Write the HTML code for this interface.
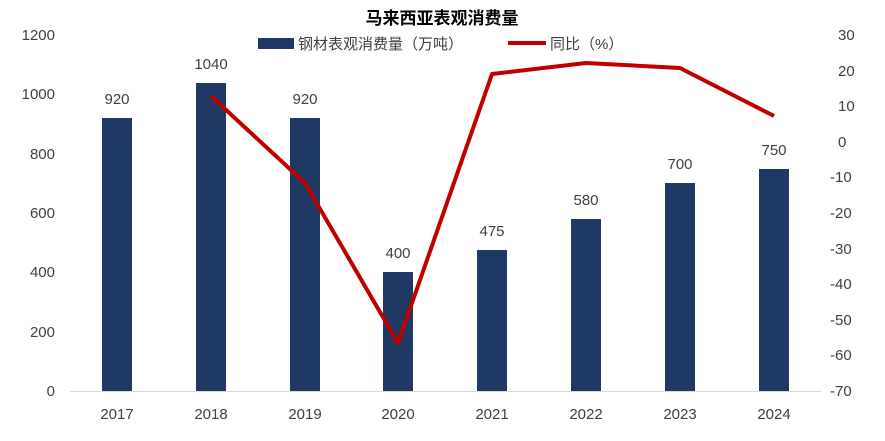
<!DOCTYPE html>
<html><head><meta charset="utf-8"><style>
body{margin:0;background:#fff}
svg text{font-family:"Liberation Sans","Noto Sans CJK SC",sans-serif;fill:#404040}
</style></head><body>
<svg width="885" height="436" xmlns="http://www.w3.org/2000/svg">
<rect width="885" height="436" fill="#fff"/>
<text x="442" y="24" text-anchor="middle" font-size="17" font-weight="bold" style="fill:#000">马来西亚表观消费量</text>
<rect x="258" y="38" width="36" height="11" fill="#1F3864"/>
<text x="298" y="49" font-size="15">钢材表观消费量（万吨）</text>
<line x1="508" y1="43" x2="546" y2="43" stroke="#C00000" stroke-width="4"/>
<text x="550" y="49" font-size="15">同比（%）</text>
<g font-size="15" text-anchor="end">
<text x="55" y="396">0</text><text x="55" y="337">200</text><text x="55" y="277">400</text><text x="55" y="218">600</text><text x="55" y="159">800</text><text x="55" y="99">1000</text><text x="55" y="40">1200</text>
</g>
<g font-size="15" text-anchor="start">
<text x="838" y="40">30</text><text x="838" y="76">20</text><text x="838" y="111">10</text><text x="838" y="147">0</text><text x="830" y="182">-10</text><text x="830" y="218">-20</text><text x="830" y="254">-30</text><text x="830" y="289">-40</text><text x="830" y="325">-50</text><text x="830" y="360">-60</text><text x="830" y="396">-70</text>
</g>
<line x1="70" y1="391.5" x2="821" y2="391.5" stroke="#d9d9d9" stroke-width="1"/>
<g fill="#1F3864">
<rect x="102" y="118" width="30" height="273"/>
<rect x="196" y="83" width="30" height="308"/>
<rect x="290" y="118" width="30" height="273"/>
<rect x="383" y="272" width="30" height="119"/>
<rect x="477" y="250" width="30" height="141"/>
<rect x="571" y="219" width="30" height="172"/>
<rect x="665" y="183" width="30" height="208"/>
<rect x="759" y="169" width="30" height="222"/>
</g>
<g font-size="15" text-anchor="middle">
<text x="117" y="104">920</text><text x="211" y="69">1040</text><text x="305" y="104">920</text><text x="398" y="258">400</text><text x="492" y="236">475</text><text x="586" y="205">580</text><text x="680" y="169">700</text><text x="774" y="155">750</text>
</g>
<polyline points="211,96 305,183 398,343 492,74 586,63 680,68 774,116" fill="none" stroke="#C00000" stroke-width="4" stroke-linejoin="round"/>
<g font-size="15" text-anchor="middle">
<text x="117" y="419">2017</text><text x="211" y="419">2018</text><text x="305" y="419">2019</text><text x="398" y="419">2020</text><text x="492" y="419">2021</text><text x="586" y="419">2022</text><text x="680" y="419">2023</text><text x="774" y="419">2024</text>
</g>
</svg>
</body></html>
